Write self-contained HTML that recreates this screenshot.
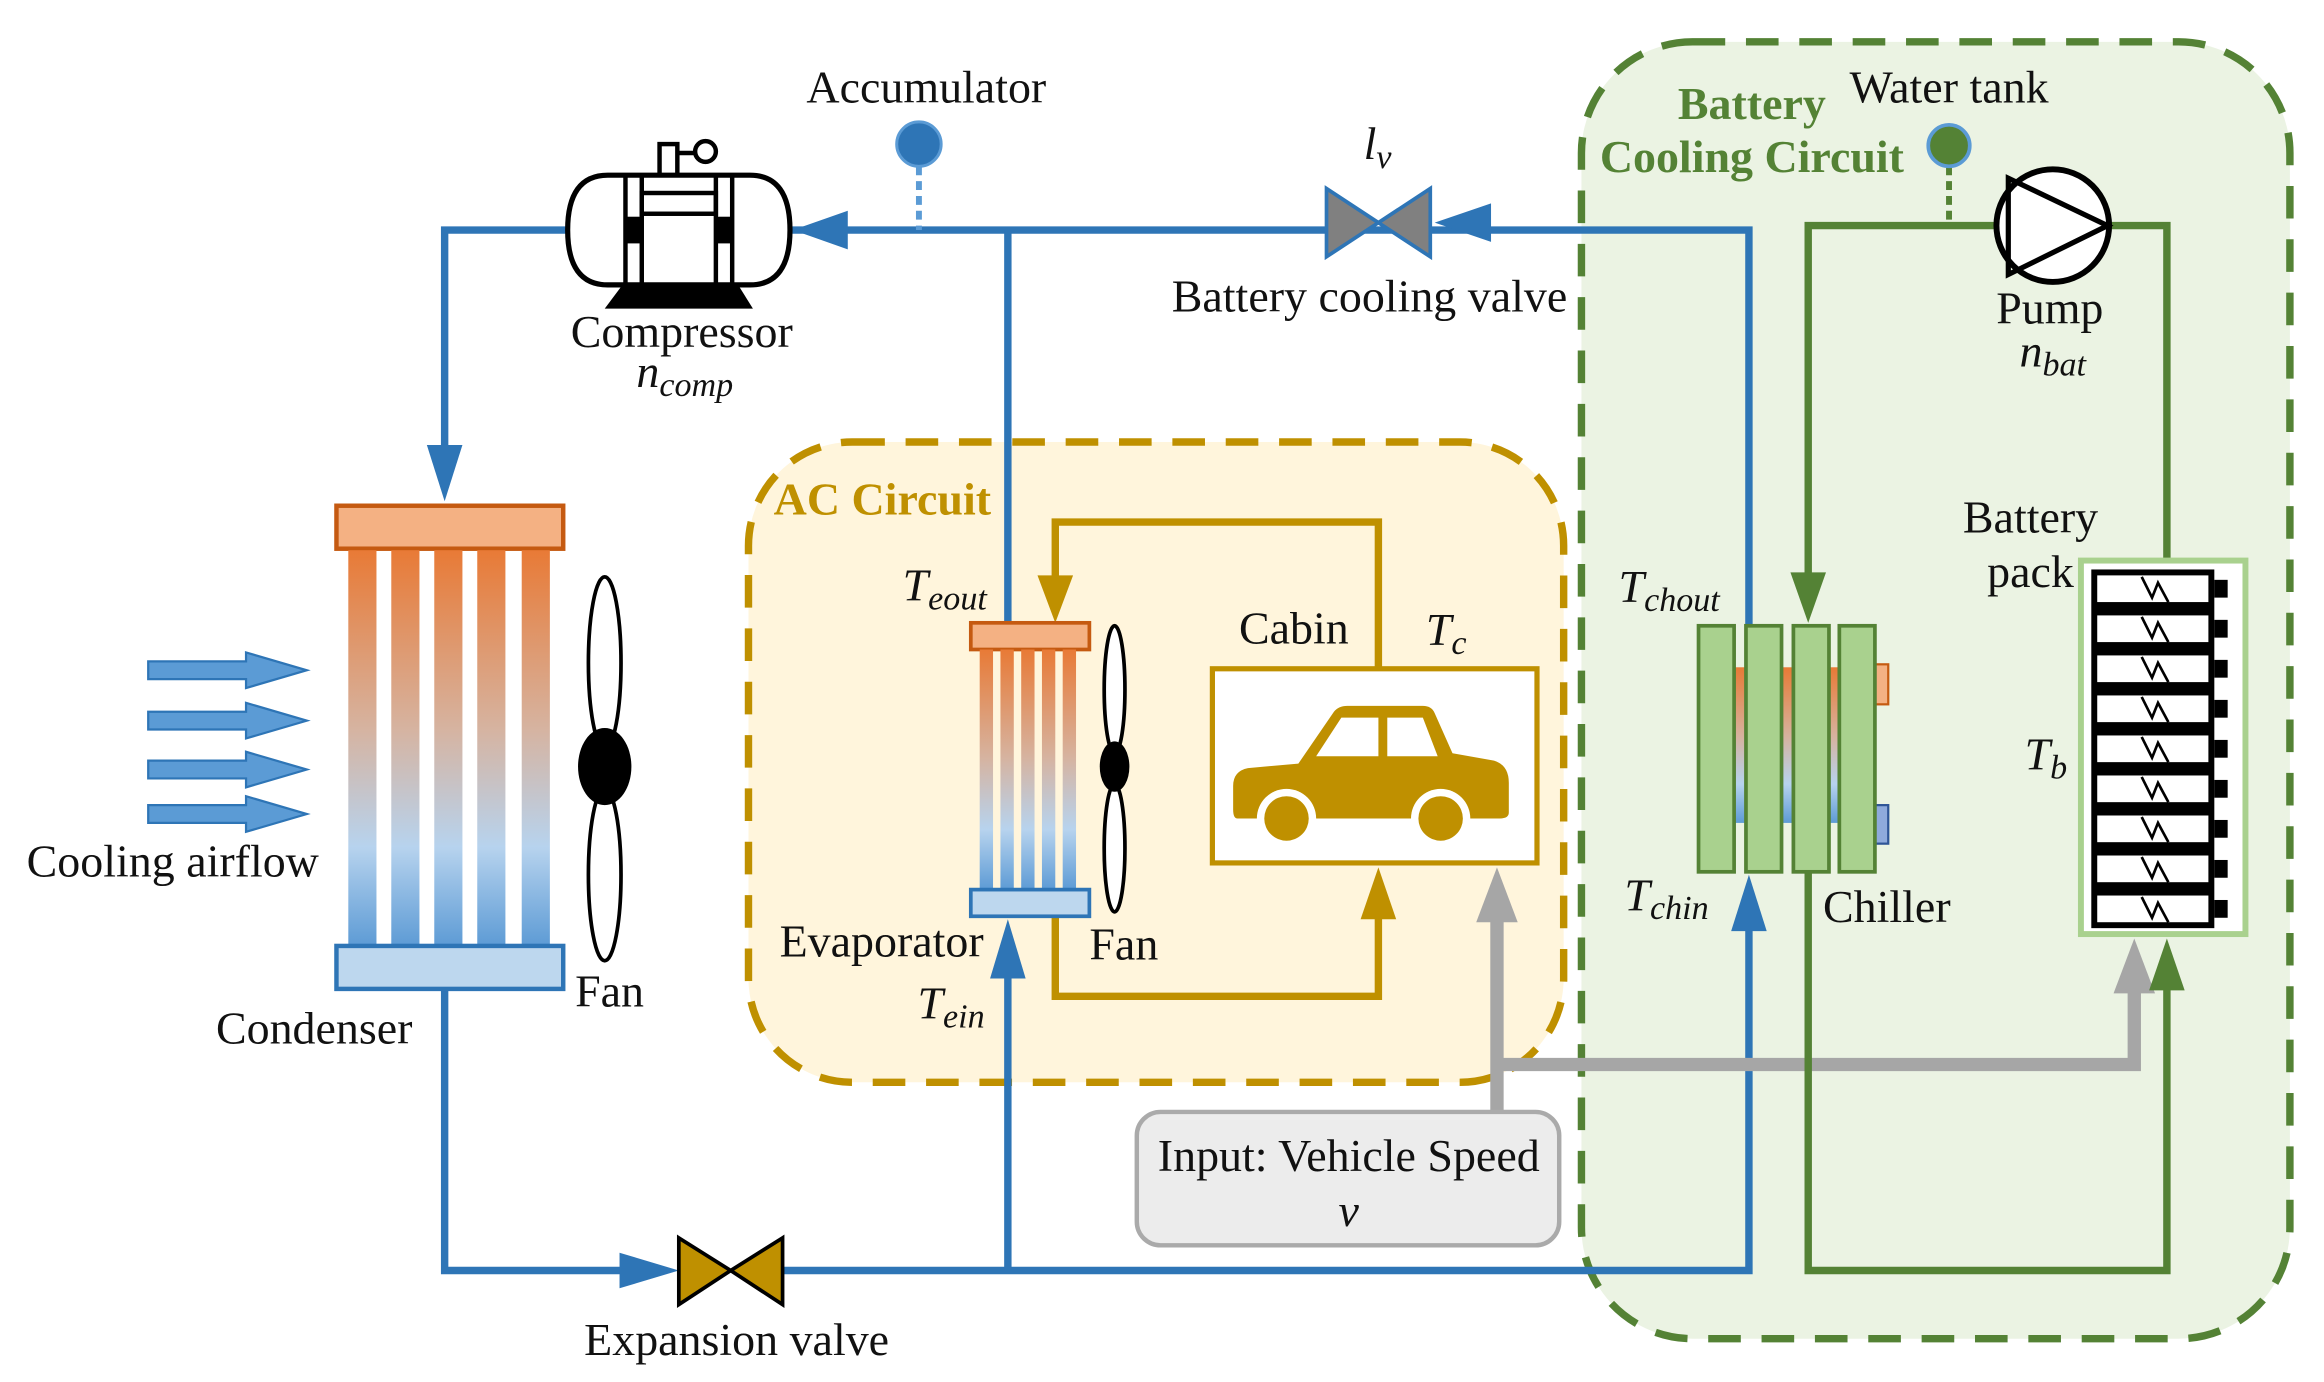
<!DOCTYPE html>
<html><head><meta charset="utf-8"><style>
html,body{margin:0;padding:0;background:#fff;}
svg{display:block;}
text{font-family:"Liberation Serif",serif;fill:#111;}
.i{font-style:italic;}
</style></head><body>
<svg width="2324" height="1382" viewBox="0 0 1568 932" xmlns="http://www.w3.org/2000/svg">
<defs>
<linearGradient id="tube" x1="0" y1="0" x2="0" y2="1">
<stop offset="0" stop-color="#e87a36"/><stop offset="0.45" stop-color="#d6b3a0"/><stop offset="0.75" stop-color="#b7d3ee"/><stop offset="1" stop-color="#5d9bd5"/>
</linearGradient>
</defs>

<rect x="1067" y="28" width="478" height="875" rx="75" fill="#ebf3e3" stroke="#548235" stroke-width="5" stroke-dasharray="22,14"/>
<rect x="505" y="298" width="550" height="432" rx="70" fill="#fff5dc" stroke="#bf9000" stroke-width="5" stroke-dasharray="22,14"/>

<g stroke="#2e75b6" stroke-width="5" fill="none">
<polyline points="383,155 300,155 300,310"/>
<polyline points="533,155 1180,155 1180,422"/>
<line x1="680" y1="155" x2="680" y2="420"/>
<polyline points="300,667 300,857 430,857"/>
<polyline points="528,857 1180,857 1180,620"/>
<line x1="680" y1="857" x2="680" y2="650"/>
</g>
<g fill="#2e75b6">
<polygon points="288,300 312,300 300,338"/>
<polygon points="535,155 572,142 572,168"/>
<polygon points="968,150 1006,137 1006,163"/>
<polygon points="418,845 418,869 458,857"/>
<polygon points="668,660 692,660 680,620"/>
<polygon points="1168,628 1192,628 1180,590"/>
</g>

<line x1="620" y1="112" x2="620" y2="155" stroke="#5b9bd5" stroke-width="4" stroke-dasharray="6,4"/>
<circle cx="620" cy="97" r="15" fill="#2e75b6" stroke="#5b9bd5" stroke-width="2"/>
<text x="625" y="69" font-size="31" text-anchor="middle">Accumulator</text>

<rect x="445" y="97" width="12" height="22" fill="#fff" stroke="#000" stroke-width="3"/>
<line x1="457" y1="103" x2="470" y2="103" stroke="#000" stroke-width="3"/>
<circle cx="476" cy="102" r="7" fill="#fff" stroke="#000" stroke-width="3"/>
<polygon points="420,192 498,192 508,208 408,208" fill="#000"/>
<path d="M410,118 L506,118 Q533,118 533,155 Q533,192 506,192 L410,192 Q383,192 383,155 Q383,118 410,118 Z" fill="#fff" stroke="#000" stroke-width="3.5"/>
<g stroke="#000" stroke-width="3" fill="none">
<line x1="422" y1="118" x2="422" y2="192"/><line x1="433" y1="118" x2="433" y2="192"/>
<line x1="483" y1="118" x2="483" y2="192"/><line x1="494" y1="118" x2="494" y2="192"/>
<rect x="433" y="130" width="50" height="14"/>
</g>
<rect x="422" y="146" width="11" height="18" fill="#000"/><rect x="483" y="146" width="11" height="18" fill="#000"/>
<text x="460" y="234" font-size="31" text-anchor="middle">Compressor</text>
<text x="462" y="261" font-size="31" text-anchor="middle" class="i">n<tspan font-size="23" dy="6">comp</tspan></text>

<polygon points="895,127 930,150 895,173" fill="#808080" stroke="#2e75b6" stroke-width="2.5"/>
<polygon points="965,127 930,150 965,173" fill="#808080" stroke="#2e75b6" stroke-width="2.5"/>
<text x="920" y="107" font-size="31" class="i">l<tspan font-size="23" dy="6">v</tspan></text>
<text x="924" y="210" font-size="31" text-anchor="middle">Battery cooling valve</text>

<rect x="227" y="341" width="153" height="29" fill="#f4b183" stroke="#c55a11" stroke-width="3"/>
<g fill="url(#tube)">
<rect x="235" y="371" width="19" height="267"/><rect x="264" y="371" width="19" height="267"/>
<rect x="293" y="371" width="19" height="267"/><rect x="322" y="371" width="19" height="267"/>
<rect x="352" y="371" width="19" height="267"/>
</g>
<rect x="227" y="638" width="153" height="29" fill="#bdd7ee" stroke="#2e75b6" stroke-width="3"/>
<ellipse cx="408" cy="447" rx="11" ry="58" fill="#fff" stroke="#000" stroke-width="2.5"/>
<ellipse cx="408" cy="590" rx="11" ry="58" fill="#fff" stroke="#000" stroke-width="2.5"/>
<ellipse cx="408" cy="517" rx="18" ry="26" fill="#000"/>
<g fill="#5b9bd5" stroke="#2e75b6" stroke-width="1.5">
<polygon points="100,446 166,446 166,440 207,452 166,464 166,458 100,458"/>
<polygon points="100,480 166,480 166,474 207,486 166,498 166,492 100,492"/>
<polygon points="100,513 166,513 166,507 207,519 166,531 166,525 100,525"/>
<polygon points="100,543 166,543 166,537 207,549 166,561 166,555 100,555"/>
</g>
<text x="18" y="591" font-size="31">Cooling airflow</text>
<text x="212" y="704" font-size="31" text-anchor="middle">Condenser</text>
<text x="388" y="679" font-size="31">Fan</text>

<polygon points="458,835 493,857 458,880" fill="#bf9000" stroke="#000" stroke-width="2.5"/>
<polygon points="528,835 493,857 528,880" fill="#bf9000" stroke="#000" stroke-width="2.5"/>
<text x="497" y="914" font-size="31" text-anchor="middle">Expansion valve</text>

<text x="522" y="347" font-size="31" font-weight="bold" style="fill:#bf9000">AC Circuit</text>
<g stroke="#bf9000" stroke-width="5" fill="none">
<polyline points="930,450 930,352 712,352 712,392"/>
<polyline points="712,618 712,672 930,672 930,615"/>
</g>
<g fill="#bf9000">
<polygon points="700,388 724,388 712,420"/>
<polygon points="918,620 942,620 930,585"/>
</g>
<rect x="655" y="420" width="80" height="18" fill="#f4b183" stroke="#c55a11" stroke-width="2.5"/>
<g fill="url(#tube)">
<rect x="661" y="438" width="9" height="162"/><rect x="675" y="438" width="9" height="162"/>
<rect x="689" y="438" width="9" height="162"/><rect x="703" y="438" width="9" height="162"/>
<rect x="717" y="438" width="9" height="162"/>
</g>
<rect x="655" y="600" width="80" height="18" fill="#bdd7ee" stroke="#2e75b6" stroke-width="2.5"/>
<ellipse cx="752" cy="465" rx="7" ry="43" fill="#fff" stroke="#000" stroke-width="2.5"/>
<ellipse cx="752" cy="572" rx="7" ry="43" fill="#fff" stroke="#000" stroke-width="2.5"/>
<ellipse cx="752" cy="517" rx="10" ry="17" fill="#000"/>
<text x="609" y="405" font-size="31" class="i">T<tspan font-size="23" dy="6">eout</tspan></text>
<text x="526" y="645" font-size="31">Evaporator</text>
<text x="735" y="647" font-size="31">Fan</text>
<text x="619" y="687" font-size="31" class="i">T<tspan font-size="23" dy="6">ein</tspan></text>
<rect x="818" y="451" width="219" height="131" fill="#fff" stroke="#bf9000" stroke-width="3.5"/>
<text x="873" y="434" font-size="31" text-anchor="middle">Cabin</text>
<text x="962" y="435" font-size="31" class="i">T<tspan font-size="23" dy="6">c</tspan></text>
<g fill="#bf9000">
<path d="M876,515 L900,480 Q903,476 909,476 L960,476 Q966,476 968,481 L980,508 L1008,513 Q1018,516 1018,528 L1018,548 Q1018,552 1012,552 L835,552 Q832,552 832,546 L832,530 Q832,520 842,518 Z"/>
</g>
<g fill="#fff">
<polygon points="888,510 905,484 930,484 930,510"/>
<polygon points="936,484 960,484 970,510 936,510"/>
<circle cx="868" cy="552" r="20"/><circle cx="972" cy="552" r="20"/>
</g>
<g fill="#bf9000"><circle cx="868" cy="552" r="15"/><circle cx="972" cy="552" r="15"/></g>

<g stroke="#a6a6a6" stroke-width="9" fill="none">
<polyline points="1010,750 1010,615"/>
<polyline points="1010,718 1440,718 1440,665"/>
</g>
<g fill="#a6a6a6">
<polygon points="996,622 1024,622 1010,585"/>
<polygon points="1426,670 1454,670 1440,633"/>
</g>
<rect x="767" y="750" width="285" height="90" rx="16" fill="#ececec" stroke="#aaaaaa" stroke-width="3"/>
<text x="910" y="790" font-size="31" text-anchor="middle">Input: Vehicle Speed</text>
<text x="910" y="827" font-size="31" text-anchor="middle" class="i">v</text>

<text x="1182" y="80" font-size="31" font-weight="bold" text-anchor="middle" style="fill:#548235">Battery</text>
<text x="1182" y="116" font-size="31" font-weight="bold" text-anchor="middle" style="fill:#548235">Cooling Circuit</text>
<text x="1315" y="69" font-size="31" text-anchor="middle">Water tank</text>
<line x1="1315" y1="112" x2="1315" y2="152" stroke="#548235" stroke-width="4" stroke-dasharray="6,4"/>
<circle cx="1315" cy="98" r="14" fill="#548235" stroke="#5b9bd5" stroke-width="2.5"/>
<g stroke="#548235" stroke-width="5" fill="none">
<polyline points="1347,152 1220,152 1220,392"/>
<polyline points="1423,152 1462,152 1462,378"/>
<polyline points="1220,588 1220,857 1462,857 1462,665"/>
</g>
<g fill="#548235">
<polygon points="1208,386 1232,386 1220,420"/>
<polygon points="1450,668 1474,668 1462,633"/>
</g>
<circle cx="1385" cy="152" r="38" fill="#fff" stroke="#000" stroke-width="4"/>
<polygon points="1355,120 1422,152 1355,185" fill="none" stroke="#000" stroke-width="3.5"/>
<text x="1383" y="218" font-size="31" text-anchor="middle">Pump</text>
<text x="1385" y="247" font-size="31" text-anchor="middle" class="i">n<tspan font-size="23" dy="6">bat</tspan></text>
<rect x="1169" y="450" width="75" height="105" fill="url(#tube)"/>
<rect x="1265" y="448" width="9" height="27" fill="#f4b183" stroke="#c55a11" stroke-width="1.5"/>
<rect x="1265" y="543" width="9" height="26" fill="#8faadc" stroke="#2f5597" stroke-width="1.5"/>
<g fill="#a9d18e" stroke="#548235" stroke-width="2.5">
<rect x="1146" y="422" width="24" height="166"/><rect x="1178" y="422" width="24" height="166"/>
<rect x="1210" y="422" width="24" height="166"/><rect x="1241" y="422" width="24" height="166"/>
</g>
<text x="1092" y="406" font-size="31" class="i">T<tspan font-size="23" dy="6">chout</tspan></text>
<text x="1096" y="614" font-size="31" class="i">T<tspan font-size="23" dy="6">chin</tspan></text>
<text x="1230" y="622" font-size="31">Chiller</text>
<text x="1370" y="359" font-size="31" text-anchor="middle">Battery</text>
<text x="1370" y="396" font-size="31" text-anchor="middle">pack</text>
<text x="1366" y="519" font-size="31" class="i">T<tspan font-size="23" dy="6">b</tspan></text>
<rect x="1404" y="378" width="111" height="252" fill="#fff" stroke="#a9d18e" stroke-width="4"/>
<rect x="1411" y="384" width="83" height="242" fill="#000"/>
<g fill="#fff">
<rect x="1415" y="388" width="75" height="18"/><rect x="1415" y="415" width="75" height="18"/><rect x="1415" y="442" width="75" height="18"/>
<rect x="1415" y="469" width="75" height="18"/><rect x="1415" y="496" width="75" height="18"/><rect x="1415" y="523" width="75" height="18"/>
<rect x="1415" y="550" width="75" height="18"/><rect x="1415" y="577" width="75" height="18"/><rect x="1415" y="604" width="75" height="18"/>
</g>
<g fill="#000">
<rect x="1494" y="391" width="9" height="12"/><rect x="1494" y="418" width="9" height="12"/><rect x="1494" y="445" width="9" height="12"/>
<rect x="1494" y="472" width="9" height="12"/><rect x="1494" y="499" width="9" height="12"/><rect x="1494" y="526" width="9" height="12"/>
<rect x="1494" y="553" width="9" height="12"/><rect x="1494" y="580" width="9" height="12"/><rect x="1494" y="607" width="9" height="12"/>
</g>
<g stroke="#000" stroke-width="1.8" fill="none">
<polyline points="1445,389 1452,403 1456,393 1463,406"/>
<polyline points="1445,416 1452,430 1456,420 1463,433"/>
<polyline points="1445,443 1452,457 1456,447 1463,460"/>
<polyline points="1445,470 1452,484 1456,474 1463,487"/>
<polyline points="1445,497 1452,511 1456,501 1463,514"/>
<polyline points="1445,524 1452,538 1456,528 1463,541"/>
<polyline points="1445,551 1452,565 1456,555 1463,568"/>
<polyline points="1445,578 1452,592 1456,582 1463,595"/>
<polyline points="1445,605 1452,619 1456,609 1463,622"/>
</g>
</svg>
</body></html>
